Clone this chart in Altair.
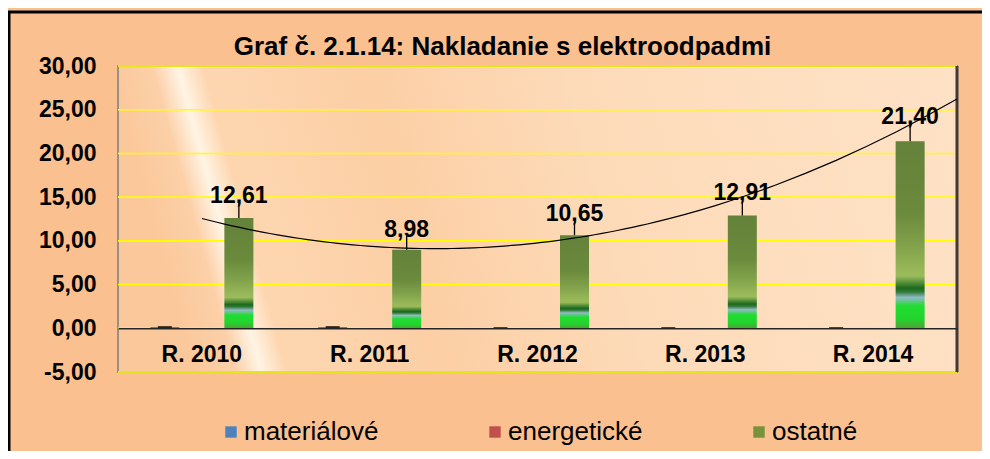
import altair as alt
import pandas as pd

# ---- data ----
kategorie = ["R. 2010", "R. 2011", "R. 2012", "R. 2013", "R. 2014"]
serie = ["materiálové", "energetické", "ostatné"]
materialove = [0.15, 0.15, 0.03, 0.03, 0.03]
energeticke = [0.02, 0.02, 0.01, 0.01, 0.01]
ostatne = [12.61, 8.98, 10.65, 12.91, 21.40]
chyba_ostatne = [1.8, 1.6, 1.7, 1.9, 2.1]
y_ticks = [-5, 0, 5, 10, 15, 20, 25, 30]
farby = ["#4F81BD", "#C0504D", "#77933C"]
nadpis = "Graf č. 2.1.14: Nakladanie s elektroodpadmi"

FONT = "Liberation Sans"

rows = []
for i, k in enumerate(kategorie):
    for s, vals in zip(serie, [materialove, energeticke, ostatne]):
        rows.append({"Kategória": k, "Séria": s, "hodnota": vals[i]})
df = pd.DataFrame(rows)

df_ost = pd.DataFrame({
    "Kategória": kategorie,
    "Séria": ["ostatné"] * len(kategorie),
    "hodnota": ostatne,
    "chyba": chyba_ostatne,
})
df_ost["horna"] = df_ost["hodnota"] + df_ost["chyba"]
df_ost["t"] = list(range(1, len(kategorie) + 1))

df_mat = df[df["Séria"] == "materiálové"]
df_me = df[df["Séria"] != "ostatné"]
df_grid = pd.DataFrame({"v": y_ticks})

W, H = 839, 306
PAD_L, PAD_T, PAD_R, PAD_B = 110, 58, 25, 79

y_axis = alt.Axis(
    values=y_ticks,
    labelExpr="replace(replace(format(datum.value, '.2f'), '.', ','), '\u2212', '-')",
    grid=False, ticks=False, domain=False, labelPadding=22,
    labelFont=FONT, labelFontSize=23, labelFontWeight="bold", labelColor="#000000",
    title=None, zindex=1,
)
y_scale = alt.Scale(domain=[-5, 30], nice=False, zero=False)


def Y(field):
    return alt.Y(field, type="quantitative", scale=y_scale, axis=y_axis, title=None)


x_axis = alt.Axis(
    orient="bottom", offset=-H * 5 / 35, domainColor="#262626", domainWidth=1.5,
    ticks=False, grid=False, labelPadding=15, labelAngle=0,
    labelFont=FONT, labelFontSize=23, labelFontWeight="bold", labelColor="#000000",
    title=None, zindex=1,
)
x_enc = alt.X("Kategória:N", sort=kategorie,
              scale=alt.Scale(domain=kategorie, paddingInner=0.3385, paddingOuter=0.169),
              axis=x_axis, title=None)
xo_enc = alt.XOffset("Séria:N", sort=serie,
                     scale=alt.Scale(domain=serie, paddingInner=0.216, paddingOuter=0.108))

bg_grad = alt.LinearGradient(
    gradient="linear", x1=0, y1=0.1, x2=1, y2=0,
    stops=[
        alt.GradientStop(color="#FBC89B", offset=0.0),
        alt.GradientStop(color="#FCD0A8", offset=0.05),
        alt.GradientStop(color="#FFF4E4", offset=0.08),
        alt.GradientStop(color="#FDD6B0", offset=0.11),
        alt.GradientStop(color="#FCCFA5", offset=0.3),
        alt.GradientStop(color="#FDDBB9", offset=0.55),
        alt.GradientStop(color="#FEE2C6", offset=1.0),
    ],
)
one = pd.DataFrame({"a": [0]})
background = alt.Chart(one).mark_rect(
    color=bg_grad, stroke="#9A8F85", strokeWidth=2
).encode(x=alt.value(0), x2=alt.value("width"), y=alt.value(0), y2=alt.value("height"))

grid = alt.Chart(df_grid).mark_rule(color="#FFFF00", strokeWidth=1.6).encode(y=Y("v"))

bars_me = alt.Chart(df_me).mark_bar().encode(
    x=x_enc, xOffset=xo_enc, y=Y("hodnota"),
    color=alt.Color("Séria:N", scale=alt.Scale(domain=serie, range=farby),
                    legend=alt.Legend(
                        title=None, orient="none", direction="horizontal",
                        legendX=100, legendY=353, symbolType="square", symbolSize=130,
                        symbolStrokeWidth=0, labelFont=FONT, labelFontSize=26,
                        labelColor="#000000", columnPadding=103, labelOffset=0,
                        padding=0,
                    )),
)

bar_grad = alt.LinearGradient(
    gradient="linear", x1=0, y1=0, x2=0, y2=1,
    stops=[
        alt.GradientStop(color="#64823A", offset=0.0),
        alt.GradientStop(color="#6A8A3C", offset=0.38),
        alt.GradientStop(color="#80A14A", offset=0.55),
        alt.GradientStop(color="#9CBC5B", offset=0.72),
        alt.GradientStop(color="#1C6A1E", offset=0.785),
        alt.GradientStop(color="#2F7A36", offset=0.805),
        alt.GradientStop(color="#92B9C8", offset=0.835),
        alt.GradientStop(color="#20DD30", offset=0.88),
        alt.GradientStop(color="#22D42E", offset=0.95),
        alt.GradientStop(color="#4FA332", offset=1.0),
    ],
)
bars_ost = alt.Chart(df_ost).mark_bar(color=bar_grad).encode(
    x=x_enc, xOffset=xo_enc, y=Y("hodnota"),
)

ticks_mat = alt.Chart(df_mat).mark_tick(color="#000000", thickness=2, size=14).encode(
    x=x_enc, xOffset=xo_enc, y=Y("hodnota"),
)

err = alt.Chart(df_ost).mark_rule(color="#000000", strokeWidth=1.3).encode(
    x=x_enc, xOffset=xo_enc, y=Y("hodnota"), y2="horna",
)

labels = alt.Chart(df_ost).transform_calculate(
    lbl="replace(format(datum.hodnota, '.2f'), '.', ',')"
).mark_text(
    font=FONT, fontSize=23, fontWeight="bold", color="#000000", baseline="alphabetic", dy=1
).encode(x=x_enc, xOffset=xo_enc, y=Y("horna"), text="lbl:N")

right_edge = alt.Chart(one).mark_rule(
    color="#3F3A36", strokeWidth=3
).encode(x=alt.value("width"), y=alt.value(0), y2=alt.value("height"))

# outer chart frame (black border on top and left, as in the reference)
frame_top = alt.Chart(one).mark_rule(color="#000000", strokeWidth=3).encode(
    x=alt.value(-PAD_L), x2=alt.value(W + PAD_R), y=alt.value(-PAD_T + 4)
)
frame_left = alt.Chart(one).mark_rule(color="#000000", strokeWidth=3).encode(
    x=alt.value(-PAD_L + 1), y=alt.value(-PAD_T + 3), y2=alt.value(H + PAD_B)
)

inner = alt.layer(background, grid, bars_me, bars_ost, ticks_mat, err, labels,
                  right_edge, frame_top, frame_left)

trend = alt.Chart(df_ost).transform_regression(
    "t", "hodnota", method="poly", order=2, extent=[1, 5.5]
).mark_line(color="#000000", strokeWidth=1.2).encode(
    x=alt.X("t:Q", scale=alt.Scale(domain=[0.5, 5.5], nice=False, zero=False), axis=None),
    y=Y("hodnota"),
)

chart = alt.layer(inner, trend).resolve_scale(x="independent").properties(
    width=W, height=H,
    autosize=alt.AutoSizeParams(type="none"),
    padding={"left": PAD_L, "top": PAD_T, "right": PAD_R, "bottom": PAD_B},
    background="#FAC090",
    title=alt.TitleParams(
        nadpis, font=FONT, fontSize=26, fontWeight="bold", color="#000000",
        anchor="middle", frame="group", dx=-35, offset=-71, baseline="alphabetic",
    ),
).configure_view(stroke=None)

chart.save("out.html", embed_options={"renderer": "svg", "actions": False})
